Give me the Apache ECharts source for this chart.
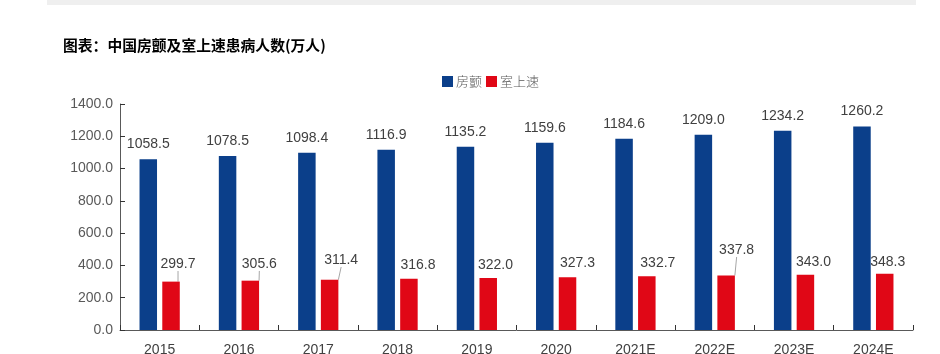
<!DOCTYPE html>
<html>
<head>
<meta charset="utf-8">
<script src="https://cdn.jsdelivr.net/npm/echarts@6/dist/echarts.min.js"></script>
<style>
html,body{margin:0;padding:0;background:#fff;}
#main{width:940px;height:354px;}
</style>
</head>
<body>
<div id="main"></div>
<script>
var years = ['2015','2016','2017','2018','2019','2020','2021E','2022E','2023E','2024E'];
var afib = [1058.5,1078.5,1098.4,1116.9,1135.2,1159.6,1184.6,1209.0,1234.2,1260.2];
var svt = [299.7,305.6,311.4,316.8,322.0,327.3,332.7,337.8,343.0,348.3];
// label nudges for the red series
var svtDx = [7,9,11.5,9,7.3,10,11,10.5,8,3];
var svtDy = [-5.6,-4.7,-7.7,-2,-1,-2,-1,-13.5,0,0];
var svtLine = [true,true,true,false,false,false,false,true,false,false];

var chart = echarts.init(document.getElementById('main'));

var svtData = [];
for(var i=0;i<svt.length;i++){
	svtData.push({value:svt[i], labelLine:{show:svtLine[i]}});
}

chart.setOption({
	animation:false,
	title:{
		text:'图表：中国房颤及室上速患病人数(万人)',
		left:63,
		top:38,
		padding:0,
		textStyle:{
			fontFamily:'Noto Sans CJK SC',
			fontSize:14.8,
			fontWeight:'bold',
			color:'#000'
		}
	},
	graphic:[{
		type:'rect',
		shape:{x:47,y:0,width:869,height:5},
		style:{fill:'#efefef'}
	}],
	legend:{
		left:437,
		top:70,
		itemWidth:11,
		itemHeight:11,
		itemGap:4,
		icon:'rect',
		textStyle:{
			fontFamily:'Noto Sans CJK SC',
			fontSize:13,
			fontWeight:300,
			color:'#595959',
			padding:[0,0,0,-2]
		},
		data:['房颤','室上速']
	},
	grid:{
		left:120,
		right:27,
		top:104,
		bottom:24,
		outerBoundsMode:'none'
	},
	xAxis:{
		type:'category',
		data:years,
		axisLine:{lineStyle:{color:'#595959',width:1}},
		axisTick:{show:true,inside:true,length:5,lineStyle:{color:'#333'}},
		axisLabel:{
			margin:13,
			fontFamily:'Liberation Sans',
			fontSize:14,
			color:'#404040'
		}
	},
	yAxis:{
		type:'value',
		min:0,
		max:1400,
		interval:200,
		axisLine:{show:true,lineStyle:{color:'#595959',width:1}},
		axisTick:{show:true,inside:true,length:5,lineStyle:{color:'#333'}},
		splitLine:{show:false},
		axisLabel:{
			margin:7,
			fontFamily:'Liberation Sans',
			fontSize:14,
			color:'#595959',
			formatter:function(v){return v.toFixed(1);}
		}
	},
	series:[{
		name:'房颤',
		type:'bar',
		data:afib,
		barWidth:17.5,
		barGap:'30%',
		itemStyle:{color:'#0B3F8A'},
		label:{
			show:true,
			position:'top',
			distance:8,
			fontFamily:'Liberation Sans',
			fontSize:14,
			color:'#404040',
			formatter:function(p){return p.value.toFixed(1);}
		}
	},{
		name:'室上速',
		type:'bar',
		data:svtData,
		barWidth:17.5,
		itemStyle:{color:'#E00716'},
		label:{
			show:true,
			position:'top',
			distance:5,
			fontFamily:'Liberation Sans',
			fontSize:14,
			color:'#404040',
			formatter:function(p){return p.value.toFixed(1);}
		},
		labelLine:{
			show:false,
			lineStyle:{color:'#a6a6a6',width:1}
		},
		labelLayout:function(p){
			return {dx:svtDx[p.dataIndex], dy:svtDy[p.dataIndex]};
		}
	}]
});
</script>
</body>
</html>
